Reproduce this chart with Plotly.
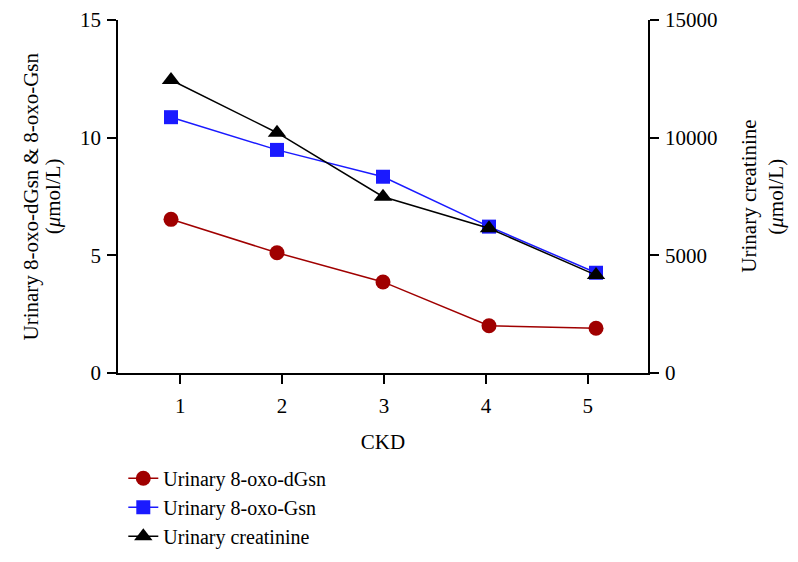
import plotly.graph_objects as go

# CKD stages (points in the figure are slightly offset around each tick)
ckd_ticks = [1, 2, 3, 4, 5]
x_pos = [0.91, 1.95, 2.99, 4.03, 5.08]

oxo_dgsn = [6.53, 5.11, 3.87, 2.01, 1.90]
oxo_gsn = [10.87, 9.48, 8.34, 6.22, 4.26]
creatinine = [12450, 10210, 7490, 6150, 4160]

FONT = "Liberation Serif, Times New Roman, serif"

fig = go.Figure()

fig.add_trace(go.Scatter(
    x=x_pos, y=oxo_dgsn, name="Urinary 8-oxo-dGsn",
    mode="lines+markers",
    line=dict(color="#a00000", width=1.5),
    marker=dict(symbol="circle", size=15, color="#a00000"),
))
fig.add_trace(go.Scatter(
    x=x_pos, y=oxo_gsn, name="Urinary 8-oxo-Gsn",
    mode="lines+markers",
    line=dict(color="#1a1aff", width=1.5),
    marker=dict(symbol="square", size=14, color="#1a1aff"),
))
fig.add_trace(go.Scatter(
    x=x_pos, y=creatinine, name="Urinary creatinine",
    mode="lines+markers", yaxis="y2",
    line=dict(color="black", width=1.5),
    marker=dict(symbol="triangle-up", size=16, color="black"),
))

axis_common = dict(
    showgrid=False, zeroline=False, showline=True, automargin=False,
    linecolor="black", linewidth=1.5,
    ticks="outside", ticklen=9, tickwidth=1.5, tickcolor="black",
    tickfont=dict(family=FONT, size=21, color="black"),
)

# axis titles as rotated annotations (tighter line spacing than <br>)
title_lines = [
    ("Urinary 8-oxo-dGsn & 8-oxo-Gsn", -0.166),
    ("(<i>μ</i>mol/L)", -0.123),
    ("Urinary creatinine", 1.189),
    ("(<i>μ</i>mol/L)", 1.240),
]
annotations = [
    dict(text=t, x=x, y=0.5, xref="paper", yref="paper",
         xanchor="center", yanchor="middle", textangle=-90,
         showarrow=False, font=dict(family=FONT, size=21, color="black"))
    for t, x in title_lines
]

fig.update_layout(
    width=798, height=562,
    paper_bgcolor="white", plot_bgcolor="white",
    margin=dict(l=110, r=158, t=12, b=197),
    font=dict(family=FONT, size=21, color="black"),
    xaxis=dict(
        **axis_common,
        range=[0.39, 5.59], tickvals=ckd_ticks, ticklabelstandoff=4,
        title=dict(text="CKD", font=dict(family=FONT, size=21), standoff=17),
    ),
    yaxis=dict(
        **axis_common,
        range=[0, 15], tickvals=[0, 5, 10, 15], ticklabelstandoff=2,
    ),
    yaxis2=dict(
        **axis_common,
        overlaying="y", side="right",
        range=[0, 15000], tickvals=[0, 5000, 10000, 15000],
        tickformat="d", ticklabelstandoff=2,
    ),
    annotations=annotations,
    legend=dict(
        x=0.01, y=-0.243, xanchor="left", yanchor="top",
        font=dict(family=FONT, size=20, color="black"),
        bgcolor="rgba(0,0,0,0)", tracegroupgap=0,
    ),
)

fig.write_html("out.html")
